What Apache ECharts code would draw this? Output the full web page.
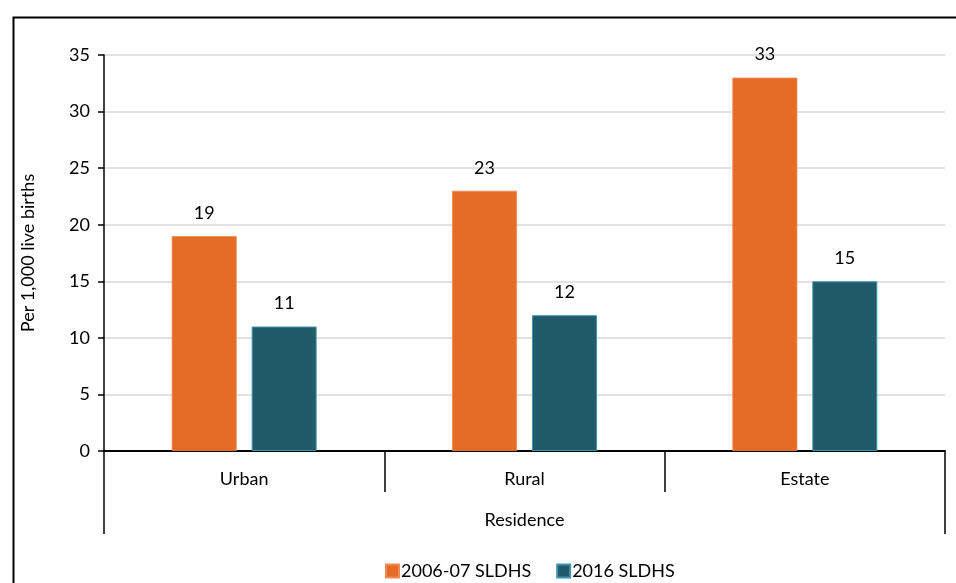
<!DOCTYPE html>
<html>
<head>
<meta charset="utf-8">
<style>
  html, body { margin: 0; padding: 0; background: #fff; }
  #chart { width: 956px; height: 583px; }
</style>
<script src="https://cdn.jsdelivr.net/npm/echarts@6/dist/echarts.min.js"></script>
</head>
<body>
<div id="chart"></div>
<script>
// Neonatal mortality by residence, two survey rounds
const categories = ['Urban', 'Rural', 'Estate'];
const groupLabel = ['Residence'];
const series2006 = [19, 23, 33];
const series2016 = [11, 12, 15];
const seriesNames = ['2006-07 SLDHS', '2016 SLDHS'];
const yTicks = { min: 0, max: 35, interval: 5 };

const FONT = 'Lato, "Open Sans", sans-serif';
const FS = 18;
const chart = echarts.init(document.getElementById('chart'), null, { renderer: 'canvas' });

const labelStyle = {
  show: true,
  position: 'top',
  distance: 14,
  color: '#000',
  fontSize: FS,
  fontFamily: FONT
};

chart.setOption({
  animation: false,
  backgroundColor: '#fff',
  graphic: [{
    type: 'rect',
    left: 11,
    top: 15,
    shape: { width: 960, height: 600 },
    style: { fill: 'none', stroke: '#000', lineWidth: 2 },
    silent: true,
    z: -1
  }],
  grid: { left: 104, right: 11, top: 55, bottom: 132 },
  legend: {
    bottom: -2,
    left: 380,
    itemWidth: 13,
    itemHeight: 13,
    itemGap: 25,
    icon: 'rect',
    textStyle: { color: '#000', fontSize: FS, fontFamily: FONT, padding: [0, 0, 0, -3] },
    data: seriesNames
  },
  xAxis: [{
    type: 'category',
    data: categories,
    position: 'bottom',
    axisLine: { show: true, lineStyle: { color: '#000', width: 2 } },
    axisTick: { show: true, alignWithLabel: false, length: 41, lineStyle: { color: '#000', width: 1.5 } },
    axisLabel: { color: '#000', fontSize: FS, fontFamily: FONT, margin: 19 },
    splitLine: { show: false }
  }, {
    type: 'category',
    data: groupLabel,
    position: 'bottom',
    axisLine: { show: false },
    axisTick: { show: true, alignWithLabel: false, length: 83, lineStyle: { color: '#000', width: 1.5 } },
    axisLabel: { color: '#000', fontSize: FS, fontFamily: FONT, margin: 60 },
    splitLine: { show: false }
  }],
  yAxis: {
    type: 'value',
    min: yTicks.min,
    max: yTicks.max,
    interval: yTicks.interval,
    name: 'Per 1,000 live births',
    nameLocation: 'middle',
    nameGap: 67,
    nameRotate: 90,
    nameTextStyle: { color: '#000', fontSize: 18, fontFamily: FONT },
    axisLine: { show: true, lineStyle: { color: '#000', width: 1.5 } },
    axisTick: { show: true, length: 6, lineStyle: { color: '#000', width: 1.5 } },
    axisLabel: { color: '#000', fontSize: FS, fontFamily: FONT, margin: 14 },
    splitLine: { show: true, lineStyle: { color: '#d9d9d9', width: 1.5 } }
  },
  series: [{
    name: seriesNames[0],
    type: 'bar',
    data: series2006,
    barWidth: 65,
    barGap: '23%',
    itemStyle: { color: '#E46C26', borderColor: '#F08A55', borderWidth: 0.8 },
    label: labelStyle
  }, {
    name: seriesNames[1],
    type: 'bar',
    data: series2016,
    barWidth: 65,
    itemStyle: { color: '#215B69', borderColor: '#3F94AC', borderWidth: 1 },
    label: labelStyle
  }]
});
</script>
</body>
</html>
